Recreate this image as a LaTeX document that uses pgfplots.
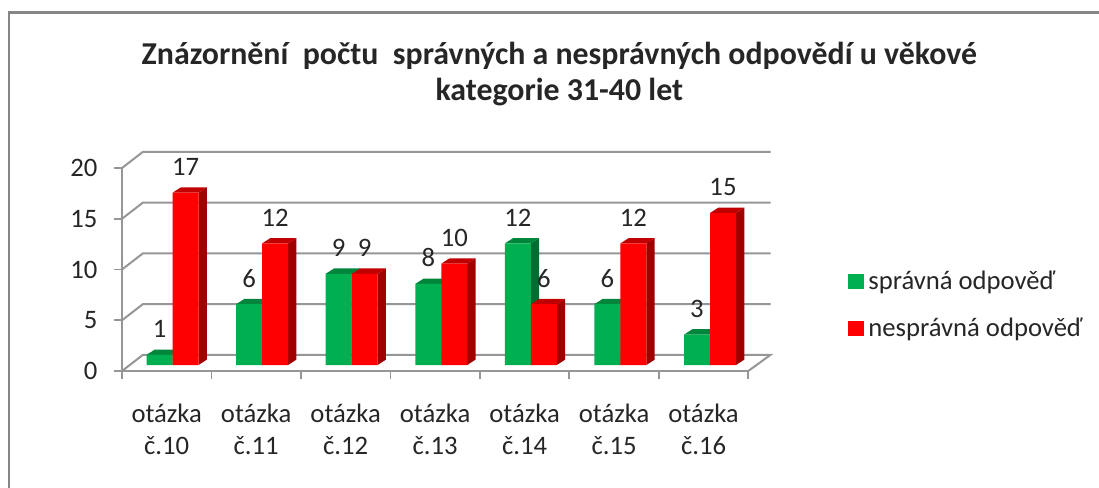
\documentclass[border=0pt]{standalone}
\usepackage{fontspec}
\setmainfont{Carlito}
\usepackage{pgfplots}
\usepackage{pgfplotstable}
\pgfplotsset{compat=1.18}

\definecolor{framegray}{HTML}{868686}
\definecolor{gridgray}{HTML}{969696}
\definecolor{txt}{HTML}{262626}
\definecolor{gfront}{HTML}{00B050}
\definecolor{gside}{HTML}{006E32}
\definecolor{gtop}{HTML}{00863C}
\definecolor{rfront}{HTML}{FF0000}
\definecolor{rside}{HTML}{A00000}
\definecolor{rtop}{HTML}{C00000}

\pgfplotstableread{
q  ok bad
0  1  17
1  6  12
2  9  9
3  8  10
4  12 6
5  6  12
6  3  15
}\answers

% side and top face of one bar
\newcommand\barfaces[4]{%
  \pgfmathsetmacro\xr{#1+0.29}%
  \pgfmathsetmacro\xs{#1+0.29+0.093}%
  \pgfmathsetmacro\xb{#1+0.093}%
  \pgfmathsetmacro\yb{#2+0.53}%
  \edef\tmp{\noexpand\addplot[fill=#3,draw=none,forget plot] coordinates {(\xr,0)(\xs,0.53)(\xs,\yb)(\xr,#2)(\xr,0)};
    \noexpand\addplot[fill=#4,draw=none,forget plot] coordinates {(#1,#2)(\xr,#2)(\xs,\yb)(\xb,\yb)(#1,#2)};}%
  \tmp
}

\begin{document}
\begin{tikzpicture}
\useasboundingbox (0,0) rectangle (824.25pt,365.25pt);
\draw[framegray,line width=1.9pt] (6.6pt,-2pt) -- (6.6pt,356pt) -- (826pt,356pt);

\node[txt,align=center,font=\fontsize{23.9pt}{27pt}\selectfont\bfseries] at (419.5pt,310pt)
  {Znázornění~ počtu~ správných a nesprávných odpovědí u věkové\\kategorie 31-40 let};

% frame, back wall and tick labels
\begin{axis}[
    at={(91.5pt,87pt)}, anchor=south west,
    scale only axis, width=469.7pt, height=152.25pt,
    xmin=-0.5, xmax=6.5, ymin=0, ymax=20,
    clip=false,
    axis lines*=left,
    axis line style={gridgray,line width=1.5pt,-},
    tick style={gridgray,line width=1.3pt},
    tick align=outside, major tick length=6pt,
    xtick={-0.5,0.5,...,6.5},
    x tick label as interval,
    xticklabels={{otázka\\č.10},{otázka\\č.11},{otázka\\č.12},{otázka\\č.13},{otázka\\č.14},{otázka\\č.15},{otázka\\č.16}},
    x tick label style={align=center,font=\fontsize{20pt}{24pt}\selectfont,text=txt,yshift=-15pt},
    ytick={0,5,...,20},
    y tick label style={font=\fontsize{20pt}{24pt}\selectfont,text=txt,xshift=-9pt},
    /pgf/number format/assume math mode=true,
]
\addplot[gridgray,line width=1.5pt] coordinates {(-0.5,0)(-0.265,1.6)(6.75,1.6)(6.5,0)};
\addplot[gridgray,line width=1.5pt] coordinates {(-0.5,5)(-0.265,6.6)(6.75,6.6)};
\addplot[gridgray,line width=1.5pt] coordinates {(-0.5,10)(-0.265,11.6)(6.75,11.6)};
\addplot[gridgray,line width=1.5pt] coordinates {(-0.5,15)(-0.265,16.6)(6.75,16.6)};
\addplot[gridgray,line width=1.5pt] coordinates {(-0.5,20)(-0.265,21.6)(6.75,21.6)};
\end{axis}

% bars
\begin{axis}[
    at={(95.8pt,91.5pt)}, anchor=south west,
    scale only axis, width=470.3pt, height=152pt,
    xmin=-0.5, xmax=6.5, ymin=0, ymax=20,
    clip=false,
    hide axis,
    /pgf/number format/assume math mode=true,
    every node near coord/.append style={font=\fontsize{20pt}{24pt}\selectfont,text=txt,anchor=center,yshift=19.5pt},
    legend image code/.code={\fill[#1] (0pt,-5.45pt) rectangle (11.7pt,5.45pt);},
    legend style={at={(1.1483,0.296)},anchor=west,draw=none,fill=none,inner sep=0pt,
      nodes={inner xsep=3.5pt,inner ysep=0pt},
      font=\fontsize{20pt}{24pt}\selectfont,text=txt,row sep=19.6pt,
      legend cell align=left},
]
\pgfplotsforeachungrouped \i in {0,...,6}{%
  \pgfplotstablegetelem{\i}{ok}\of\answers
  \pgfmathsetmacro\xl{\i-0.29}%
  \expandafter\barfaces\expandafter{\xl}{\pgfplotsretval}{gside}{gtop}%
}
\addplot[ybar,bar width=19.5pt,bar shift=-9.75pt,fill=gfront,draw=none,nodes near coords,
  every node near coord/.append style={xshift=-9.75pt}] table[x=q,y=ok] {\answers};
\addlegendentry{správná odpověď}
\pgfplotsforeachungrouped \i in {0,...,6}{%
  \pgfplotstablegetelem{\i}{bad}\of\answers
  \edef\xl{\i}%
  \edef\v{\pgfplotsretval}%
  \expandafter\barfaces\expandafter{\xl}{\v}{rside}{rtop}%
}
\addplot[ybar,bar width=19.5pt,bar shift=9.75pt,fill=rfront,draw=none,nodes near coords,
  every node near coord/.append style={xshift=9.75pt}] table[x=q,y=bad] {\answers};
\addlegendentry{nesprávná odpověď}
\end{axis}
\end{tikzpicture}
\end{document}
